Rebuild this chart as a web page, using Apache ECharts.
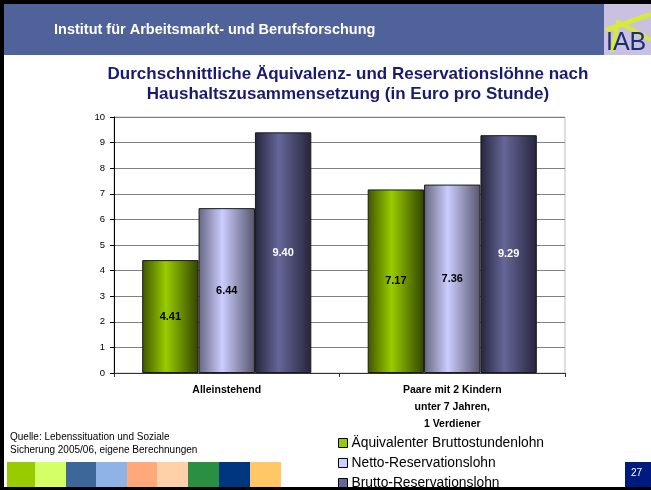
<!DOCTYPE html>
<html><head><meta charset="utf-8">
<script src="https://cdn.jsdelivr.net/npm/echarts@6/dist/echarts.min.js"></script>
<style>html,body{margin:0;padding:0;background:#fff}#c{width:651px;height:490px}</style>
</head><body><div id="c"></div>
<script>
var categories = ['Alleinstehend', 'Paare mit 2 Kindern\nunter 7 Jahren,\n1 Verdiener'];
var seriesNames = ['Äquivalenter Bruttostundenlohn', 'Netto-Reservationslohn', 'Brutto-Reservationslohn'];
var aequivalent = [4.41, 7.17];
var nettoRes = [6.44, 7.36];
var bruttoRes = [9.40, 9.29];
var yTicks = [0, 1, 2, 3, 4, 5, 6, 7, 8, 9, 10];
var stripColors = ['#99cc00', '#d4ff66', '#3d6699', '#8fb3e6', '#ffa97a', '#ffd1a8', '#2a8f40', '#003580', '#ffc766'];

var F = '"Liberation Sans", Arial, sans-serif';
function grad(edgeL, mid, edgeR) {
  return new echarts.graphic.LinearGradient(0, 0, 1, 0, [
    {offset: 0, color: edgeL}, {offset: 0.42, color: mid}, {offset: 1, color: edgeR}
  ]);
}
var chart = echarts.init(document.getElementById('c'), null, {renderer: 'canvas'});

var graphics = [
  {type: 'rect', shape: {x: 0, y: 0, width: 651, height: 4}, style: {fill: '#000'}},
  {type: 'rect', shape: {x: 0, y: 0, width: 4, height: 490}, style: {fill: '#000'}},
  {type: 'rect', shape: {x: 4, y: 4, width: 600, height: 51}, style: {fill: '#50629a'}},
  {type: 'text', left: 54, top: 22, style: {text: 'Institut für Arbeitsmarkt- und Berufsforschung', fill: '#fff', font: 'bold 14.5px ' + F}},
  // logo
  {type: 'rect', shape: {x: 604, y: 4, width: 47, height: 51}, style: {fill: '#c9c0e2'}},
  {type: 'polyline', shape: {points: [[606, 30], [651, 14]]}, style: {stroke: '#d7ea3a', lineWidth: 5}},
  {type: 'polyline', shape: {points: [[612, 52], [618, 22], [651, 40]]}, style: {stroke: '#d7ea3a', lineWidth: 4}},
  {type: 'text', left: 606, top: 31, style: {text: 'IAB', fill: '#1d2f6e', font: '25px ' + F}},
  {type: 'rect', shape: {x: 604, y: 55, width: 47, height: 6}, style: {fill: '#fff'}},
  // source
  {type: 'text', left: 10, top: 431, style: {text: 'Quelle: Lebenssituation und Soziale\nSicherung 2005/06, eigene Berechnungen', fill: '#000', font: '10px ' + F, lineHeight: 13}},
  // page number
  {type: 'rect', shape: {x: 625, y: 462, width: 26, height: 25}, style: {fill: '#001a80'}},
  {type: 'text', left: 631, top: 468, style: {text: '27', fill: '#fff', font: '10px ' + F}}
];
var xs = [7, 35, 66, 96, 127, 157, 188, 219, 250, 281];
for (var i = 0; i < stripColors.length; i++) {
  graphics.push({type: 'rect', shape: {x: xs[i], y: 462, width: xs[i + 1] - xs[i], height: 25}, style: {fill: stripColors[i]}});
}
graphics.push({type: 'rect', z: 100, shape: {x: 0, y: 487, width: 651, height: 3}, style: {fill: '#000'}});

var labelBase = {show: true, position: 'inside', fontFamily: F, fontWeight: 'bold', fontSize: 11, formatter: function (p) { return p.value.toFixed(2); }};

chart.setOption({
  animation: false,
  title: {
    text: 'Durchschnittliche Äquivalenz- und Reservationslöhne nach\nHaushaltszusammensetzung (in Euro pro Stunde)',
    left: 343, textAlign: 'center', top: 59,
    textStyle: {fontFamily: F, fontWeight: 'bold', fontSize: 17, color: '#1a1a70', lineHeight: 20}
  },
  graphic: graphics,
  grid: {left: 114, right: 86, top: 117, bottom: 117, show: true, borderColor: '#bdbdbd', borderWidth: 1, backgroundColor: 'transparent'},
  xAxis: {
    type: 'category', data: categories,
    axisLine: {lineStyle: {color: '#333', width: 1}},
    axisTick: {show: true, length: 4, lineStyle: {color: '#333'}},
    axisLabel: {fontFamily: F, fontWeight: 'bold', fontSize: 10.5, color: '#000', lineHeight: 17, margin: 9}
  },
  yAxis: {
    type: 'value', min: 0, max: 10, interval: 1,
    axisLine: {show: true, lineStyle: {color: '#000', width: 1}},
    axisTick: {show: true, length: 4, lineStyle: {color: '#000'}},
    axisLabel: {fontFamily: F, fontSize: 9.5, color: '#000', margin: 9, formatter: function (v) { return yTicks.indexOf(v) >= 0 ? String(v) : ''; }},
    splitLine: {lineStyle: {color: '#808080', width: 1}}
  },
  legend: {
    orient: 'vertical', left: 338, top: 436, height: 100, padding: 0, itemWidth: 9, itemHeight: 9, itemGap: 6,
    icon: 'rect',
    textStyle: {fontFamily: F, fontSize: 13.8, lineHeight: 14, color: '#000', padding: [0, 0, 0, -1]},
    data: [
      {name: seriesNames[0], itemStyle: {color: '#99cc00', borderColor: '#000', borderWidth: 1}},
      {name: seriesNames[1], itemStyle: {color: '#ccccff', borderColor: '#000', borderWidth: 1}},
      {name: seriesNames[2], itemStyle: {color: '#666699', borderColor: '#000', borderWidth: 1}}
    ]
  },
  series: [
    {name: seriesNames[0], type: 'bar', data: aequivalent, barGap: '0%', barCategoryGap: '25%',
      itemStyle: {color: grad('#3f5500', '#99cc00', '#334400'), borderColor: '#1a1a1a', borderWidth: 1},
      label: Object.assign({}, labelBase, {color: '#000'})},
    {name: seriesNames[1], type: 'bar', data: nettoRes, barGap: '0%', barCategoryGap: '25%',
      itemStyle: {color: grad('#66667f', '#ccccff', '#55556b'), borderColor: '#1a1a1a', borderWidth: 1},
      label: Object.assign({}, labelBase, {color: '#000'})},
    {name: seriesNames[2], type: 'bar', data: bruttoRes, barGap: '0%', barCategoryGap: '25%',
      itemStyle: {color: grad('#25253c', '#666699', '#25253c'), borderColor: '#1a1a1a', borderWidth: 1},
      label: Object.assign({}, labelBase, {color: '#fff'})}
  ]
});
</script></body></html>
